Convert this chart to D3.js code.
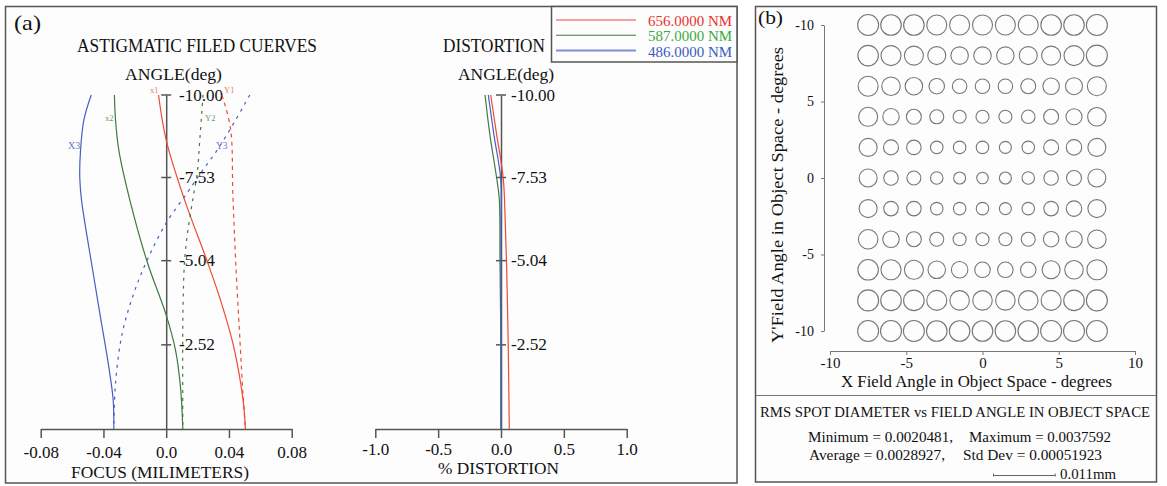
<!DOCTYPE html>
<html><head><meta charset="utf-8">
<script src="https://cdn.jsdelivr.net/npm/d3@7"></script>
<style>
body{margin:0;background:#fff}
svg{display:block}
text{font-family:"Liberation Serif","Times New Roman",serif;fill:#111}
</style>
</head><body><svg id="c" width="1167" height="486"></svg>
<script>
// ---------- DATA ----------
const wavelengths = ["656.0000 NM", "587.0000 NM", "486.0000 NM"];
const fieldTicks = [-10.00, -7.53, -5.04, -2.52];
const focusTicks = [-0.08, -0.04, 0.0, 0.04, 0.08];
const focusTickLabels = ["-0.08", "-0.04", "0.0", "0.04", "0.08"];
const distTicks = [-1.0, -0.5, 0.0, 0.5, 1.0];

// Astigmatic field curves (field angle deg, focus mm)
const x1Field = [-10, -8.65, -6.86, -5.0, -3.86, -2.49, -0.87, 0];
const x1Focus = [-0.0049, 0, 0.0117, 0.0263, 0.0346, 0.0429, 0.049, 0.0505];
const y1Field = [-10, -9.0, -7.0, -5.0, -2.66, -1.0, 0];
const y1Focus = [0.0355, 0.041, 0.0425, 0.0443, 0.047, 0.049, 0.0505];
const x2Field = [-10, -9.25, -8.35, -6.86, -5.0, -3.41, -2.37, -1.26, 0];
const x2Focus = [-0.033, -0.0323, -0.0302, -0.0232, -0.0121, 0, 0.0059, 0.0091, 0.0106];
const y2Field = [-10, -8.65, -7.66, -6.95, -5.36, -3.86, 0];
const y2Focus = [0.0235, 0.0214, 0.0198, 0.0172, 0.0123, 0.0108, 0.0106];
const x3Field = [-10, -9.25, -8.35, -7.54, -6.86, -4.85, -3.35, -1.86, -0.87, 0];
const x3Focus = [-0.0478, -0.0525, -0.0546, -0.0551, -0.054, -0.0472, -0.0419, -0.0366, -0.0338, -0.0334];
const y3Field = [-10, -9.16, -8.35, -7.66, -7.07, -6.17, -5.06, -4.07, -2.87, -1.38, 0];
const y3Focus = [0.0533, 0.0431, 0.0325, 0.0219, 0.0134, 0, -0.0121, -0.0206, -0.028, -0.0323, -0.0334];

// Distortion curves (field angle deg, % distortion)
const distRedField = [-10, -8.8, -7.5, -6.4, -4.85, -2.37, 0];
const distRedValue = [-0.082, -0.034, 0.018, 0.032, 0.045, 0.058, 0.066];
const distGreenField = [-10, -8.8, -7.5, -6.86, -5.06, -3, 0];
const distGreenValue = [-0.127, -0.088, -0.034, -0.013, -0.008, -0.002, 0];
const distBlueField = [-10, -8.8, -7.5, -6, 0];
const distBlueValue = [-0.101, -0.056, -0.003, 0, 0];

// Spot grid (RMS spot diameter, mm)
const spotX = [-7.5, -6, -4.5, -3, -1.5, 0, 1.5, 3, 4.5, 6, 7.5];
const spotY = [10, 8, 6, 4, 2, 0, -2, -4, -6, -8, -10];
const spotRms = [
  [0.00374,0.00366,0.00366,0.00357,0.00357,0.00357,0.00357,0.00357,0.00366,0.00366,0.00374],
  [0.00366,0.00357,0.00339,0.00321,0.00312,0.00312,0.00312,0.00321,0.00339,0.00357,0.00374],
  [0.00357,0.00330,0.00312,0.00276,0.00259,0.00259,0.00259,0.00267,0.00294,0.00303,0.00339],
  [0.00339,0.00294,0.00267,0.00250,0.00232,0.00232,0.00232,0.00241,0.00267,0.00285,0.00330],
  [0.00321,0.00267,0.00259,0.00223,0.00223,0.00223,0.00214,0.00223,0.00267,0.00276,0.00321],
  [0.00321,0.00259,0.00250,0.00223,0.00214,0.00205,0.00214,0.00223,0.00259,0.00267,0.00321],
  [0.00321,0.00259,0.00259,0.00223,0.00223,0.00223,0.00214,0.00223,0.00259,0.00276,0.00321],
  [0.00348,0.00294,0.00267,0.00250,0.00232,0.00232,0.00232,0.00250,0.00276,0.00294,0.00330],
  [0.00366,0.00357,0.00339,0.00312,0.00294,0.00276,0.00276,0.00276,0.00321,0.00330,0.00357],
  [0.00374,0.00366,0.00366,0.00357,0.00348,0.00348,0.00348,0.00348,0.00357,0.00366,0.00374],
  [0.00374,0.00374,0.00374,0.00366,0.00366,0.00366,0.00366,0.00366,0.00374,0.00374,0.00374]
];
const spotXTicks = [-10, -5, 0, 5, 10];
const spotXTickLabels = ["-10", "-5", "0", "5", "10"];
const spotYTicks = [10, 5, 0, -5, -10];
const spotYTickLabels = ["-10", "5", "0", "-5", "-10"];
const scaleBarMm = 0.011;

// ---------- DRAW ----------
const svg = d3.select("#c");
const RED = "#ee4a35", GREEN = "#3f7a3f", BLUE = "#4a5cc4", AX = "#555";
const hy = f => v => f(v).replace("\u2212", "-");

function txt(g, s, x, y, size, opts = {}) {
  const t = g.append("text").attr("x", x).attr("y", y).attr("font-size", size).text(s);
  if (opts.anchor) t.attr("text-anchor", opts.anchor);
  if (opts.fill) t.style("fill", opts.fill);
  if (opts.len) t.attr("textLength", opts.len).attr("lengthAdjust", "spacingAndGlyphs");
  if (opts.transform) t.attr("transform", opts.transform);
  return t;
}

// panels
svg.append("rect").attr("x", 5.5).attr("y", 6.5).attr("width", 731.5).attr("height", 476.5)
  .attr("fill", "#fdfdfd").attr("stroke", AX).attr("stroke-width", 1.5);
svg.append("rect").attr("x", 755.5).attr("y", 6.5).attr("width", 401).attr("height", 475.5)
  .attr("fill", "#fdfdfd").attr("stroke", AX).attr("stroke-width", 1.5);
svg.append("line").attr("x1", 755.5).attr("x2", 1156.5).attr("y1", 395.5).attr("y2", 395.5)
  .attr("stroke", "#777").attr("stroke-width", 1);

// ---- panel (a) ----
const A = svg.append("g");
txt(A, "(a)", 14, 30, 21, {len: 27});
txt(A, "ASTIGMATIC FILED CUERVES", 77, 52, 18, {len: 240});
txt(A, "ANGLE(deg)", 125, 80, 17.5, {len: 97});
txt(A, "DISTORTION", 443, 52, 18, {len: 102});
txt(A, "ANGLE(deg)", 458, 80, 17.5, {len: 96});

const yF = d3.scaleLinear().domain([0, -10]).range([429, 95]);
const xF = d3.scaleLinear().domain([-0.08, 0.08]).range([40.7, 291.7]);
const xD = d3.scaleLinear().domain([-1, 1]).range([375.3, 626.7]);

function fieldAxis(x0, labelX) {
  const g = A.append("g").attr("transform", `translate(${x0},0)`);
  const ax = d3.axisRight(yF).tickValues([]).tickSizeOuter(0);
  g.call(ax);
  g.select(".domain").attr("stroke", AX).attr("stroke-width", 1.5);
  fieldTicks.forEach(v => {
    g.append("line").attr("x1", -5).attr("x2", 5).attr("y1", yF(v)).attr("y2", yF(v))
      .attr("stroke", AX).attr("stroke-width", 1.5);
    txt(g, hy(d3.format(".2f"))(v), labelX - x0, yF(v) + 5.5, 17.5, {len: v <= -10 ? 44 : 36});
  });
}
function bottomAxis(scale, ticks, labels, ly) {
  const g = A.append("g").attr("transform", "translate(0,429)");
  g.call(d3.axisBottom(scale).tickValues(ticks).tickSize(9).tickSizeOuter(0).tickFormat((d, i) => labels[i]));
  g.select(".domain").attr("stroke", AX).attr("stroke-width", 1.5);
  g.selectAll(".tick line").attr("stroke", AX).attr("stroke-width", 1.5);
  g.selectAll(".tick text").attr("y", ly).attr("dy", 0).attr("font-size", 17)
    .attr("font-family", "Liberation Serif").style("fill", "#111");
}
bottomAxis(xF, focusTicks, focusTickLabels, 29);
bottomAxis(xD, distTicks, distTicks.map(hy(d3.format(".1f"))), 26);
fieldAxis(xF(0), 179);
fieldAxis(xD(0), 511);
txt(A, "FOCUS (MILIMETERS)", 71, 477.5, 16, {len: 178});
txt(A, "% DISTORTION", 438, 474, 16, {len: 121});

const zip = (f, v) => f.map((d, i) => [d, v[i]]);
const lineF = d3.line().x(d => xF(d[1])).y(d => yF(d[0])).curve(d3.curveCatmullRom.alpha(0.5));
const lineD = d3.line().x(d => xD(d[1])).y(d => yF(d[0])).curve(d3.curveCatmullRom.alpha(0.5));
function path(g, gen, data, color, dash) {
  const p = g.append("path").attr("d", gen(data)).attr("fill", "none")
    .attr("stroke", color).attr("stroke-width", 1.2);
  if (dash) p.attr("stroke-dasharray", dash);
}
path(A, lineF, zip(x1Field, x1Focus), RED);
path(A, lineF, zip(y1Field, y1Focus), RED, "4,4");
path(A, lineF, zip(x2Field, x2Focus), GREEN);
path(A, lineF, zip(y2Field, y2Focus), GREEN, "3,5");
path(A, lineF, zip(x3Field, x3Focus), BLUE);
path(A, lineF, zip(y3Field, y3Focus), BLUE, "3,5");

txt(A, "x1", 150, 92.5, 8.5, {fill: "#f07a68"});
txt(A, "Y1", 224, 92.5, 8.5, {fill: "#f07a68"});
txt(A, "x2", 105, 120.5, 8.5, {fill: "#6f9a6f"});
txt(A, "Y2", 205, 120.5, 8.5, {fill: "#6f9a6f"});
txt(A, "X3", 68, 149, 10, {fill: "#6a78cc"});
txt(A, "Y3", 216, 149, 9.5, {fill: "#6a78cc"});

path(A, lineD, zip(distGreenField, distGreenValue), GREEN);
path(A, lineD, zip(distBlueField, distBlueValue), BLUE);
path(A, lineD, zip(distRedField, distRedValue), RED);

// legend
svg.append("rect").attr("x", 551.5).attr("y", 6.5).attr("width", 185.5).attr("height", 55.5)
  .attr("fill", "#fdfdfd").attr("stroke", AX).attr("stroke-width", 1.5);
const legColors = [RED, GREEN, "#7d8fd6"];
const legText = ["#e8322a", "#3caa3c", "#3a5cc0"];
const legY = d3.scalePoint().domain(wavelengths).range([20, 50.5]);
wavelengths.forEach((w, i) => {
  svg.append("line").attr("x1", 556).attr("x2", 636).attr("y1", legY(w)).attr("y2", legY(w))
    .attr("stroke", legColors[i]).attr("stroke-width", i === 2 ? 1.8 : 1.2);
  txt(svg, w, 732, legY(w) + 6, 15, {anchor: "end", fill: legText[i], len: 84});
});

// ---- panel (b) ----
const B = svg.append("g");
txt(B, "(b)", 758, 24, 19, {len: 25});
const xS = d3.scaleLinear().domain([-10, 10]).range([830, 1135]);
const yS = d3.scaleLinear().domain([-10, 10]).range([331, 25]);
const pxPerMm = 61.7 / scaleBarMm;

const gx = B.append("g").attr("transform", "translate(0,351)");
gx.call(d3.axisBottom(xS).tickValues(spotXTicks).tickSize(4).tickSizeOuter(0)
  .tickFormat((d, i) => spotXTickLabels[i]));
gx.select(".domain").attr("stroke", "#777").attr("stroke-width", 1);
gx.selectAll(".tick line").attr("stroke", "#777");
gx.selectAll(".tick text").attr("y", 17).attr("dy", 0).attr("font-size", 15)
  .attr("font-family", "Liberation Serif").style("fill", "#111");

const gy = B.append("g").attr("transform", "translate(824,0)");
gy.call(d3.axisLeft(yS).tickValues(spotYTicks).tickSize(3).tickSizeOuter(0)
  .tickFormat((d, i) => spotYTickLabels[i]));
gy.select(".domain").attr("stroke", "#777").attr("stroke-width", 1);
gy.selectAll(".tick line").attr("stroke", "#777");
gy.selectAll(".tick text").attr("x", -10).attr("dy", "0.32em").attr("font-size", 14)
  .attr("font-family", "Liberation Serif").style("fill", "#111");

txt(B, "X Field Angle in Object Space - degrees", 841, 387, 16, {len: 271});
txt(B, "Y'Field Angle in Object Space - degrees", 0, 0, 16,
  {len: 296, transform: "translate(783,343) rotate(-90)"});

spotY.forEach((yv, r) => {
  spotX.forEach((xv, c) => {
    B.append("circle").attr("cx", xS(xv)).attr("cy", yS(yv))
      .attr("r", spotRms[r][c] * pxPerMm / 2)
      .attr("fill", "none").attr("stroke", "#777").attr("stroke-width", 1.1);
  });
});

txt(B, "RMS SPOT DIAMETER vs FIELD ANGLE IN OBJECT SPACE", 760, 417, 14.5, {len: 390});
txt(B, "Minimum = 0.0020481,", 808, 442, 14.5, {len: 145});
txt(B, "Maximum = 0.0037592", 969, 442, 14.5, {len: 142});
txt(B, "Average  = 0.0028927,", 809, 460, 14.5, {len: 136});
txt(B, "Std Dev  = 0.00051923", 963, 460, 14.5, {len: 139});
const barX0 = 993.5;
const barY = 475.5;
B.append("line").attr("x1", barX0).attr("x2", barX0 + scaleBarMm * pxPerMm).attr("y1", barY).attr("y2", barY)
  .attr("stroke", "#666").attr("stroke-width", 1);
[barX0, barX0 + scaleBarMm * pxPerMm].forEach(x =>
  B.append("line").attr("x1", x).attr("x2", x).attr("y1", barY - 2).attr("y2", barY + 1)
    .attr("stroke", "#666").attr("stroke-width", 1));
txt(B, "0.011mm", 1060, 478.5, 14.5, {len: 56});
</script>
</body></html>
